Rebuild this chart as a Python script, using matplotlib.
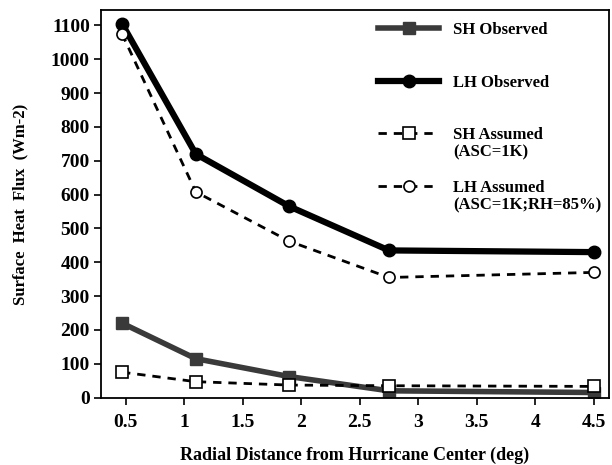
import matplotlib.pyplot as plt

# radial distance (deg) and fluxes (W m-2)
radius = [0.47, 1.1, 1.9, 2.75, 4.5]
sh_obs = [220, 115, 62, 20, 15]
lh_obs = [1105, 720, 565, 435, 430]
sh_ass = [75, 47, 37, 35, 33]
lh_ass = [1075, 608, 462, 355, 370]

labels = ['SH Observed', 'LH Observed', 'SH Assumed', 'LH Assumed']
sublabels = ['', '', '(ASC=1K)', '(ASC=1K;RH=85%)']

plt.rcParams['font.family'] = ['Liberation Serif', 'DejaVu Serif']
plt.rcParams['font.weight'] = 'bold'

fig, ax = plt.subplots(figsize=(6.12, 4.65), dpi=100)
fig.subplots_adjust(left=0.165, right=0.995, top=0.978, bottom=0.145)

ax.plot(radius, sh_obs, color='#3a3a3a', lw=4, marker='s', ms=8, label=labels[0])
ax.plot(radius, lh_obs, color='black', lw=4.5, marker='o', ms=9, label=labels[1])
ax.plot(radius, sh_ass, color='black', lw=2, ls=(0, (3, 2.5)), marker='s', ms=9,
        mfc='white', mew=1.2, label=labels[2])
ax.plot(radius, lh_ass, color='black', lw=2, ls=(0, (3, 2.5)), marker='o', ms=8,
        mfc='white', mew=1.2, label=labels[3])

ax.set_xlim(0.29, 4.63)
ax.set_ylim(0, 1145)
ax.set_xticks([0.5, 1, 1.5, 2, 2.5, 3, 3.5, 4, 4.5])
ax.set_xticklabels(['0.5', '1', '1.5', '2', '2.5', '3', '3.5', '4', '4.5'])
ax.set_yticks(range(0, 1101, 100))
ax.tick_params(labelsize=14, width=1.2, length=5)
ax.tick_params(axis='x', pad=7)
ax.tick_params(axis='y', pad=3)
for s in ax.spines.values():
    s.set_linewidth(1.3)

ax.set_xlabel('Radial Distance from Hurricane Center (deg)', fontsize=13,
              fontweight='bold', labelpad=11)
ax.set_ylabel('Surface  Heat  Flux  (Wm-2)', fontsize=12, fontweight='bold', labelpad=16)

leg = ax.legend(loc='upper left', bbox_to_anchor=(0.522, 1.0), frameon=False, fontsize=12,
                handlelength=3.7, labelspacing=2.2, borderaxespad=0.3, handletextpad=0.8)

# second lines of the legend labels, placed under their entries
fig.canvas.draw()
inv = ax.transAxes.inverted()
for txt, sub in zip(leg.get_texts(), sublabels):
    if sub:
        bb = txt.get_window_extent()
        x0, y0 = inv.transform((bb.x0, bb.y0))
        ax.text(x0, y0 - 0.004, sub, transform=ax.transAxes, fontsize=12,
                fontweight='bold', va='top', ha='left')

fig.savefig('out.png', dpi=100)
